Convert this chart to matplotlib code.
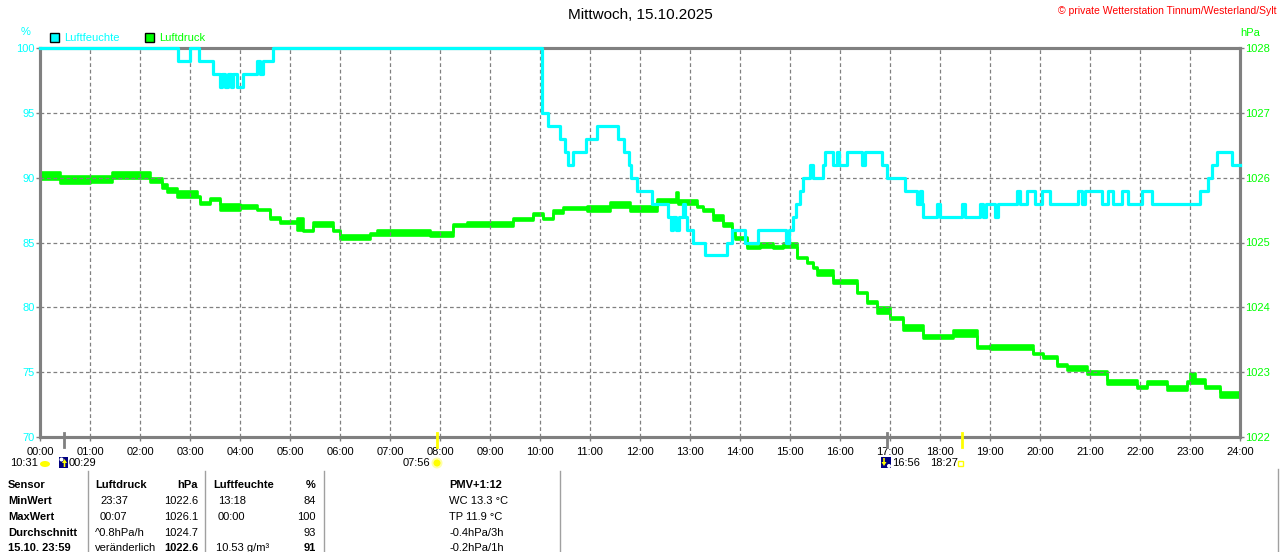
import matplotlib
matplotlib.use("Agg")
import matplotlib.pyplot as plt
from matplotlib.patches import Rectangle, Circle, Ellipse, Polygon
import numpy as np

plt.rcParams['font.family'] = ['Liberation Sans', 'DejaVu Sans']

# ---------------- data ----------------
title = "Mittwoch, 15.10.2025"
copyright_txt = "© private Wetterstation Tinnum/Westerland/Sylt"
hour_labels = ["%02d:00" % h for h in range(25)]
hum_ticks = [70, 75, 80, 85, 90, 95, 100]
prs_ticks = [1022, 1023, 1024, 1025, 1026, 1027, 1028]

# Luftfeuchte (%) step series: start hour, value
hum_t = [0.00, 2.76, 3.00, 3.18, 3.46, 3.60, 3.64, 3.70, 3.76, 3.82, 3.86, 3.94, 4.06,
         4.34, 4.40, 4.46, 4.66, 10.04, 10.16, 10.40, 10.50, 10.56, 10.66, 10.92, 11.14,
         11.56, 11.68, 11.78, 11.82, 11.94, 12.24, 12.56, 12.62, 12.66, 12.72, 12.78,
         12.86, 12.90, 12.94, 13.06, 13.30, 13.74, 13.84, 14.10, 14.36, 14.92, 14.98,
         15.06, 15.12, 15.20, 15.26, 15.40, 15.46, 15.66, 15.70, 15.86, 15.94, 15.98,
         16.14, 16.44, 16.50, 16.84, 16.94, 17.30, 17.54, 17.60, 17.64, 17.66, 17.94,
         18.00, 18.44, 18.50, 18.80, 18.86, 18.92, 19.10, 19.16, 19.54, 19.60, 19.74,
         19.90, 20.04, 20.20, 20.76, 20.84, 20.90, 21.24, 21.36, 21.46, 21.64, 21.76,
         22.04, 22.24, 23.20, 23.36, 23.44, 23.54, 23.84, 24.00]
hum_v = [100, 99, 100, 99, 98, 97, 98, 97, 98, 97, 98, 97, 98,
         99, 98, 99, 100, 95, 94, 93, 92, 91, 92, 93, 94,
         93, 92, 91, 90, 89, 88, 87, 86, 87, 86, 87,
         88, 87, 86, 85, 84, 85, 86, 85, 86, 85, 86,
         87, 88, 89, 90, 91, 90, 91, 92, 91, 92, 91,
         92, 91, 92, 91, 90, 89, 88, 89, 88, 87, 88,
         87, 88, 87, 88, 87, 88, 87, 88, 89, 88, 89,
         88, 89, 88, 89, 88, 89, 88, 89, 88, 89, 88,
         89, 88, 89, 90, 91, 92, 91, 91]

# Luftdruck (hPa) step series: start hour, lower and upper value of the reading band
prs_t = [0.00, 0.40, 1.00, 1.44, 2.20, 2.44, 2.54, 2.74, 3.14, 3.20, 3.40, 3.60, 4.00,
         4.34, 4.60, 4.80, 5.14, 5.26, 5.46, 5.86, 6.00, 6.60, 6.74, 7.80, 8.26, 8.54,
         9.46, 9.86, 10.06, 10.26, 10.46, 10.94, 11.40, 11.80, 12.34, 12.72, 12.76,
         13.14, 13.26, 13.46, 13.66, 13.84, 13.90, 14.14, 14.40, 14.66, 14.86, 15.14,
         15.34, 15.46, 15.54, 15.86, 16.34, 16.54, 16.74, 17.00, 17.26, 17.66, 18.26,
         18.74, 19.00, 19.86, 20.06, 20.34, 20.54, 20.94, 21.34, 21.94, 22.14, 22.54,
         22.94, 23.00, 23.10, 23.30, 23.60, 24.00]
prs_lo = [1025.98, 1025.92, 1025.93, 1026.00, 1025.93, 1025.84, 1025.78, 1025.70, 1025.70,
          1025.60, 1025.66, 1025.50, 1025.53, 1025.50, 1025.37, 1025.30, 1025.20, 1025.18,
          1025.25, 1025.18, 1025.06, 1025.12, 1025.12, 1025.10, 1025.25, 1025.25, 1025.35,
          1025.42, 1025.36, 1025.46, 1025.52, 1025.48, 1025.55, 1025.48, 1025.62, 1025.62,
          1025.60, 1025.55, 1025.48, 1025.35, 1025.25, 1025.12, 1025.05, 1024.92, 1024.93,
          1024.92, 1024.93, 1024.76, 1024.68, 1024.60, 1024.50, 1024.38, 1024.22, 1024.07,
          1023.92, 1023.82, 1023.65, 1023.52, 1023.56, 1023.38, 1023.35, 1023.28, 1023.22,
          1023.10, 1023.03, 1022.97, 1022.82, 1022.76, 1022.82, 1022.72, 1022.84, 1022.84,
          1022.84, 1022.76, 1022.62, 1022.62]
prs_hi = [1026.08, 1026.02, 1026.02, 1026.08, 1026.00, 1025.90, 1025.84, 1025.80, 1025.72,
          1025.62, 1025.68, 1025.60, 1025.58, 1025.52, 1025.40, 1025.33, 1025.38, 1025.20,
          1025.32, 1025.20, 1025.12, 1025.14, 1025.20, 1025.16, 1025.28, 1025.32, 1025.38,
          1025.45, 1025.38, 1025.50, 1025.55, 1025.56, 1025.62, 1025.56, 1025.67, 1025.78,
          1025.65, 1025.57, 1025.52, 1025.42, 1025.30, 1025.18, 1025.08, 1024.95, 1025.00,
          1024.94, 1025.00, 1024.78, 1024.70, 1024.62, 1024.58, 1024.42, 1024.24, 1024.09,
          1024.00, 1023.85, 1023.72, 1023.57, 1023.65, 1023.40, 1023.42, 1023.30, 1023.25,
          1023.12, 1023.10, 1023.02, 1022.88, 1022.78, 1022.87, 1022.78, 1022.86, 1022.98,
          1022.90, 1022.78, 1022.70, 1022.70]

# table
table_rows = [
    ["Sensor", "Luftdruck", "hPa", "Luftfeuchte", "%", "PMV+1:12"],
    ["MinWert", "23:37", "1022.6", "13:18", "84", "WC 13.3 °C"],
    ["MaxWert", "00:07", "1026.1", "00:00", "100", "TP 11.9 °C"],
    ["Durchschnitt", "^0.8hPa/h", "1024.7", "", "93", "-0.4hPa/3h"],
    ["15.10. 23:59", "veränderlich", "1022.6", "10.53 g/m³", "91", "-0.2hPa/1h"],
]

CYAN = "#00FFFF"
GREEN = "#00FF00"
GRAY = "#808080"

# ---------------- figure ----------------
W, H = 1280, 552
fig = plt.figure(figsize=(W / 100, H / 100), dpi=100)
fig.patch.set_facecolor("white")

x0, x1, yt, yb = 40, 1240, 48, 437
ax = fig.add_axes([x0 / W, 1 - yb / H, (x1 - x0) / W, (yb - yt) / H])
ax2 = ax.twinx()

ax.set_xlim(0, 24)
ax.set_ylim(70, 100)
ax2.set_ylim(1022, 1028)

# grid
for h in range(1, 24):
    ax.axvline(h, color=GRAY, lw=0.9, ls=(0, (3, 2.2)), zorder=0)
for v in hum_ticks[1:-1]:
    ax.axhline(v, color=GRAY, lw=0.9, ls=(0, (3, 2.2)), zorder=0)

# pressure band
t = np.array(prs_t)
lo = np.array(prs_lo)
hi = np.array(prs_hi)
ax2.fill_between(t, lo, hi, step="post", color=GREEN, lw=0, zorder=2)
ax2.step(t, lo, where="post", color=GREEN, lw=1.9, zorder=2)
ax2.step(t, hi, where="post", color=GREEN, lw=1.9, zorder=2)

# humidity
ax2.set_zorder(ax.get_zorder() - 1)
ax.patch.set_visible(False)
ax.step(hum_t, hum_v, where="post", color=CYAN, lw=2.3, zorder=3, clip_on=False)

for a in (ax, ax2):
    for s in a.spines.values():
        s.set_color(GRAY)
        s.set_linewidth(2.2)

ax.set_xticks(range(25))
ax.set_xticklabels(hour_labels, fontsize=8, color="black")
ax.set_yticks(hum_ticks)
ax.set_yticklabels([str(v) for v in hum_ticks], fontsize=8, color=CYAN)
ax2.set_yticks(prs_ticks)
ax2.set_yticklabels([str(v) for v in prs_ticks], fontsize=8, color=GREEN)
ax.tick_params(axis="x", length=3, width=1, color=GRAY, pad=4)
ax.tick_params(axis="y", length=3, width=1, color=GRAY, pad=1)
ax2.tick_params(axis="y", length=3, width=1, color=GRAY, pad=1)

# ---------------- overlay in pixel coords ----------------
ov = fig.add_axes([0, 0, 1, 1], zorder=10)
ov.set_xlim(0, W)
ov.set_ylim(H, 0)
ov.axis("off")
ov.patch.set_visible(False)

ov.text(640, 15, title, ha="center", va="center", fontsize=11, color="black")
ov.text(1277, 11, copyright_txt, ha="right", va="center", fontsize=7.5, color="#FF0000")
ov.text(26, 32, "%", ha="center", va="center", fontsize=8, color=CYAN)
ov.text(1250, 33, "hPa", ha="center", va="center", fontsize=8, color=GREEN)

ov.add_patch(Rectangle((50, 33), 9, 9, facecolor=CYAN, edgecolor="black", lw=1))
ov.text(64, 38, "Luftfeuchte", ha="left", va="center", fontsize=8, color=CYAN)
ov.add_patch(Rectangle((145, 33), 9, 9, facecolor=GREEN, edgecolor="black", lw=1))
ov.text(159, 38, "Luftdruck", ha="left", va="center", fontsize=8, color=GREEN)

# astro ticks below axis
ov.plot([64, 64], [433, 447], color=GRAY, lw=2)
ov.plot([887, 887], [433, 447], color=GRAY, lw=2)
ov.plot([437, 437], [433, 447], color="#FFFF00", lw=2)
ov.plot([962, 962], [433, 447], color="#FFFF00", lw=2)

ov.text(10, 463, "10:31", ha="left", va="center", fontsize=8, color="black")
ov.add_patch(Ellipse((45, 464), 10, 6, facecolor="#FFFF00", edgecolor="none"))
ov.add_patch(Rectangle((59, 457), 9, 11, facecolor="#000080", edgecolor="none"))
ov.add_patch(Circle((61.5, 459.5), 2, facecolor="white", edgecolor="none"))
ov.add_patch(Polygon([(64.5, 459), (67, 463), (65.3, 463), (65.3, 467), (63.7, 467), (63.7, 463), (62, 463)],
                     facecolor="#FFFF00", edgecolor="none"))
ov.text(69, 463, "00:29", ha="left", va="center", fontsize=8, color="black")

ov.text(403, 463, "07:56", ha="left", va="center", fontsize=8, color="black")
ov.add_patch(Circle((437, 463), 5.5, facecolor="#FFFFA8", edgecolor="none"))
ov.add_patch(Circle((437, 463), 3.5, facecolor="#FFFF00", edgecolor="none"))

ov.add_patch(Rectangle((881, 457), 10, 11, facecolor="#000080", edgecolor="none"))
ov.add_patch(Circle((889, 466), 2, facecolor="white", edgecolor="none"))
ov.add_patch(Polygon([(884, 466), (886.5, 462), (884.8, 462), (884.8, 458), (883.2, 458), (883.2, 462), (881.5, 462)],
                     facecolor="#FFFF00", edgecolor="none"))
ov.text(892, 463, "16:56", ha="left", va="center", fontsize=8, color="black")
ov.text(930, 463, "18:27", ha="left", va="center", fontsize=8, color="black")
ov.add_patch(Rectangle((958, 461), 5, 5, facecolor="none", edgecolor="#FFFF00", lw=1))

# table separators
for xs in (88, 205, 324, 560):
    ov.plot([xs, xs], [471, 553], color="#A0A0A0", lw=1)
ov.plot([1278, 1278], [469, 553], color="#A0A0A0", lw=1)

row_y = [485, 501, 517, 533, 548]
for i, row in enumerate(table_rows):
    y = row_y[i]
    head = (i == 0)
    ov.text(8, y, row[0], ha="left", va="center", fontsize=8, fontweight="bold")
    ov.text(95 if head else (100 if i in (1, 2) else 95), y, row[1], ha="left", va="center",
            fontsize=8, fontweight="bold" if head else "normal")
    ov.text(198, y, row[2], ha="right", va="center", fontsize=8,
            fontweight="bold" if head or i == 4 else "normal")
    ov.text(213 if head else (218 if i in (1, 2) else 216), y, row[3], ha="left", va="center",
            fontsize=8, fontweight="bold" if head else "normal")
    ov.text(316, y, row[4], ha="right", va="center", fontsize=8,
            fontweight="bold" if head or i == 4 else "normal")
    ov.text(449, y, row[5], ha="left", va="center", fontsize=8,
            fontweight="bold" if head else "normal")

fig.savefig("out.png", dpi=100, facecolor="white")
